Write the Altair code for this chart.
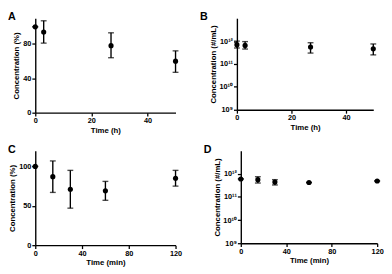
import altair as alt
import pandas as pd

FONT = "Liberation Sans"

# Panel A: percent vs time (h)
a_time = [0, 3, 27, 50]
a_val = [100, 94, 78, 60]
a_lo = [100, 81, 64, 47]
a_hi = [100, 107, 93, 72]

# Panel B: #/mL vs time (h)
b_time = [0, 3, 27, 50]
b_val = [7.0e11, 6.5e11, 5.5e11, 4.6e11]
b_lo = [5.0e11, 4.5e11, 3.0e11, 2.5e11]
b_hi = [1.0e12, 9.5e11, 8.5e11, 7.5e11]

# Panel C: percent vs time (min)
c_time = [0, 15, 30, 60, 120]
c_val = [100, 87, 71, 69, 85]
c_lo = [100, 67, 47, 57, 75]
c_hi = [100, 107, 95, 81, 95]

# Panel D: #/mL vs time (min)
d_time = [0, 15, 30, 60, 120]
d_val = [6.0e11, 5.6e11, 4.4e11, 4.2e11, 4.9e11]
d_lo = [6.0e11, 4.0e11, 3.3e11, 4.2e11, 4.9e11]
d_hi = [6.0e11, 7.5e11, 5.6e11, 4.2e11, 4.9e11]

h_ticks = [0, 10, 20, 30, 40, 50]
min_ticks = [0, 20, 40, 60, 80, 100, 120]
pct_ticks_a = [0, 20, 40, 60, 80, 100]
pct_ticks_c = [0, 50, 100]
log_ticks = [1e9, 1e10, 1e11, 1e12]

LOG_LABELS = ("datum.value >= 1e12 ? '10¹²' : datum.value >= 1e11 ? '10¹¹' : "
              "datum.value >= 1e10 ? '10¹⁰' : '10⁹'")


def panel(letter, t, v, lo, hi, xdom, xticks, xtitle, ydom, yticks, ylog, w, h, ldx):
    df = pd.DataFrame({"t": t, "v": v, "lo": lo, "hi": hi})
    if ylog:
        yscale = alt.Scale(type="log", domain=ydom)
        yaxis = alt.Axis(values=yticks, labelExpr=LOG_LABELS,
                         title="Concentration (#/mL)", labelOverlap=False)
    else:
        yscale = alt.Scale(domain=ydom, nice=False)
        yaxis = alt.Axis(values=yticks, title="Concentration (%)",
                         labelOverlap=False, format="d")
    xscale = alt.Scale(domain=xdom, nice=False)
    xaxis = alt.Axis(values=xticks, title=xtitle, labelOverlap=False, format="d")
    pts = alt.Chart(df).mark_circle(size=28, color="black", opacity=1).encode(
        x=alt.X("t:Q", scale=xscale, axis=xaxis),
        y=alt.Y("v:Q", scale=yscale, axis=yaxis))
    bars = alt.Chart(df).mark_rule(color="black", strokeWidth=1.4).encode(
        x="t:Q", y="lo:Q", y2="hi:Q")
    caps_hi = alt.Chart(df).mark_tick(color="black", orient="horizontal", size=6,
                                      thickness=1.4).encode(x="t:Q", y="hi:Q")
    caps_lo = alt.Chart(df).mark_tick(color="black", orient="horizontal", size=6,
                                      thickness=1.4).encode(x="t:Q", y="lo:Q")
    return alt.layer(pts, bars, caps_hi, caps_lo).properties(
        width=w, height=h,
        title=alt.TitleParams(letter, anchor="start", frame="group", dx=ldx,
                              fontSize=11, font=FONT, fontWeight="bold", offset=-4))


A = panel("A", a_time, a_val, a_lo, a_hi, [0, 50], h_ticks, "Time (h)",
          [0, 110], pct_ticks_a, False, 144, 97, -28)
B = panel("B", b_time, b_val, b_lo, b_hi, [0, 50], h_ticks, "Time (h)",
          [1e9, 3.2e12], log_ticks, True, 140, 94, -38)
C = panel("C", c_time, c_val, c_lo, c_hi, [0, 120], min_ticks, "Time (min)",
          [0, 120], pct_ticks_c, False, 144, 97, -28)
D = panel("D", d_time, d_val, d_lo, d_hi, [0, 120], min_ticks, "Time (min)",
          [1e9, 3.2e12], log_ticks, True, 140, 95, -38)

chart = alt.vconcat(
    alt.hconcat(A, B, spacing=22),
    alt.hconcat(C, D, spacing=22),
    spacing=10,
).properties(padding=0).configure_view(stroke=None).configure_axis(
    grid=False, domainColor="black", tickColor="black", domainWidth=1.4,
    tickWidth=1.3, tickSize=3.5, labelFont=FONT, labelFontWeight="bold",
    labelFontSize=7.5, labelColor="black", titleFont=FONT, titleFontWeight="bold",
    titleFontSize=8, titleColor="black", labelPadding=1, titlePadding=2,
    labelFlush=False,
).configure_title(color="black")

chart.save("out.html", embed_options={"renderer": "svg", "actions": False})
